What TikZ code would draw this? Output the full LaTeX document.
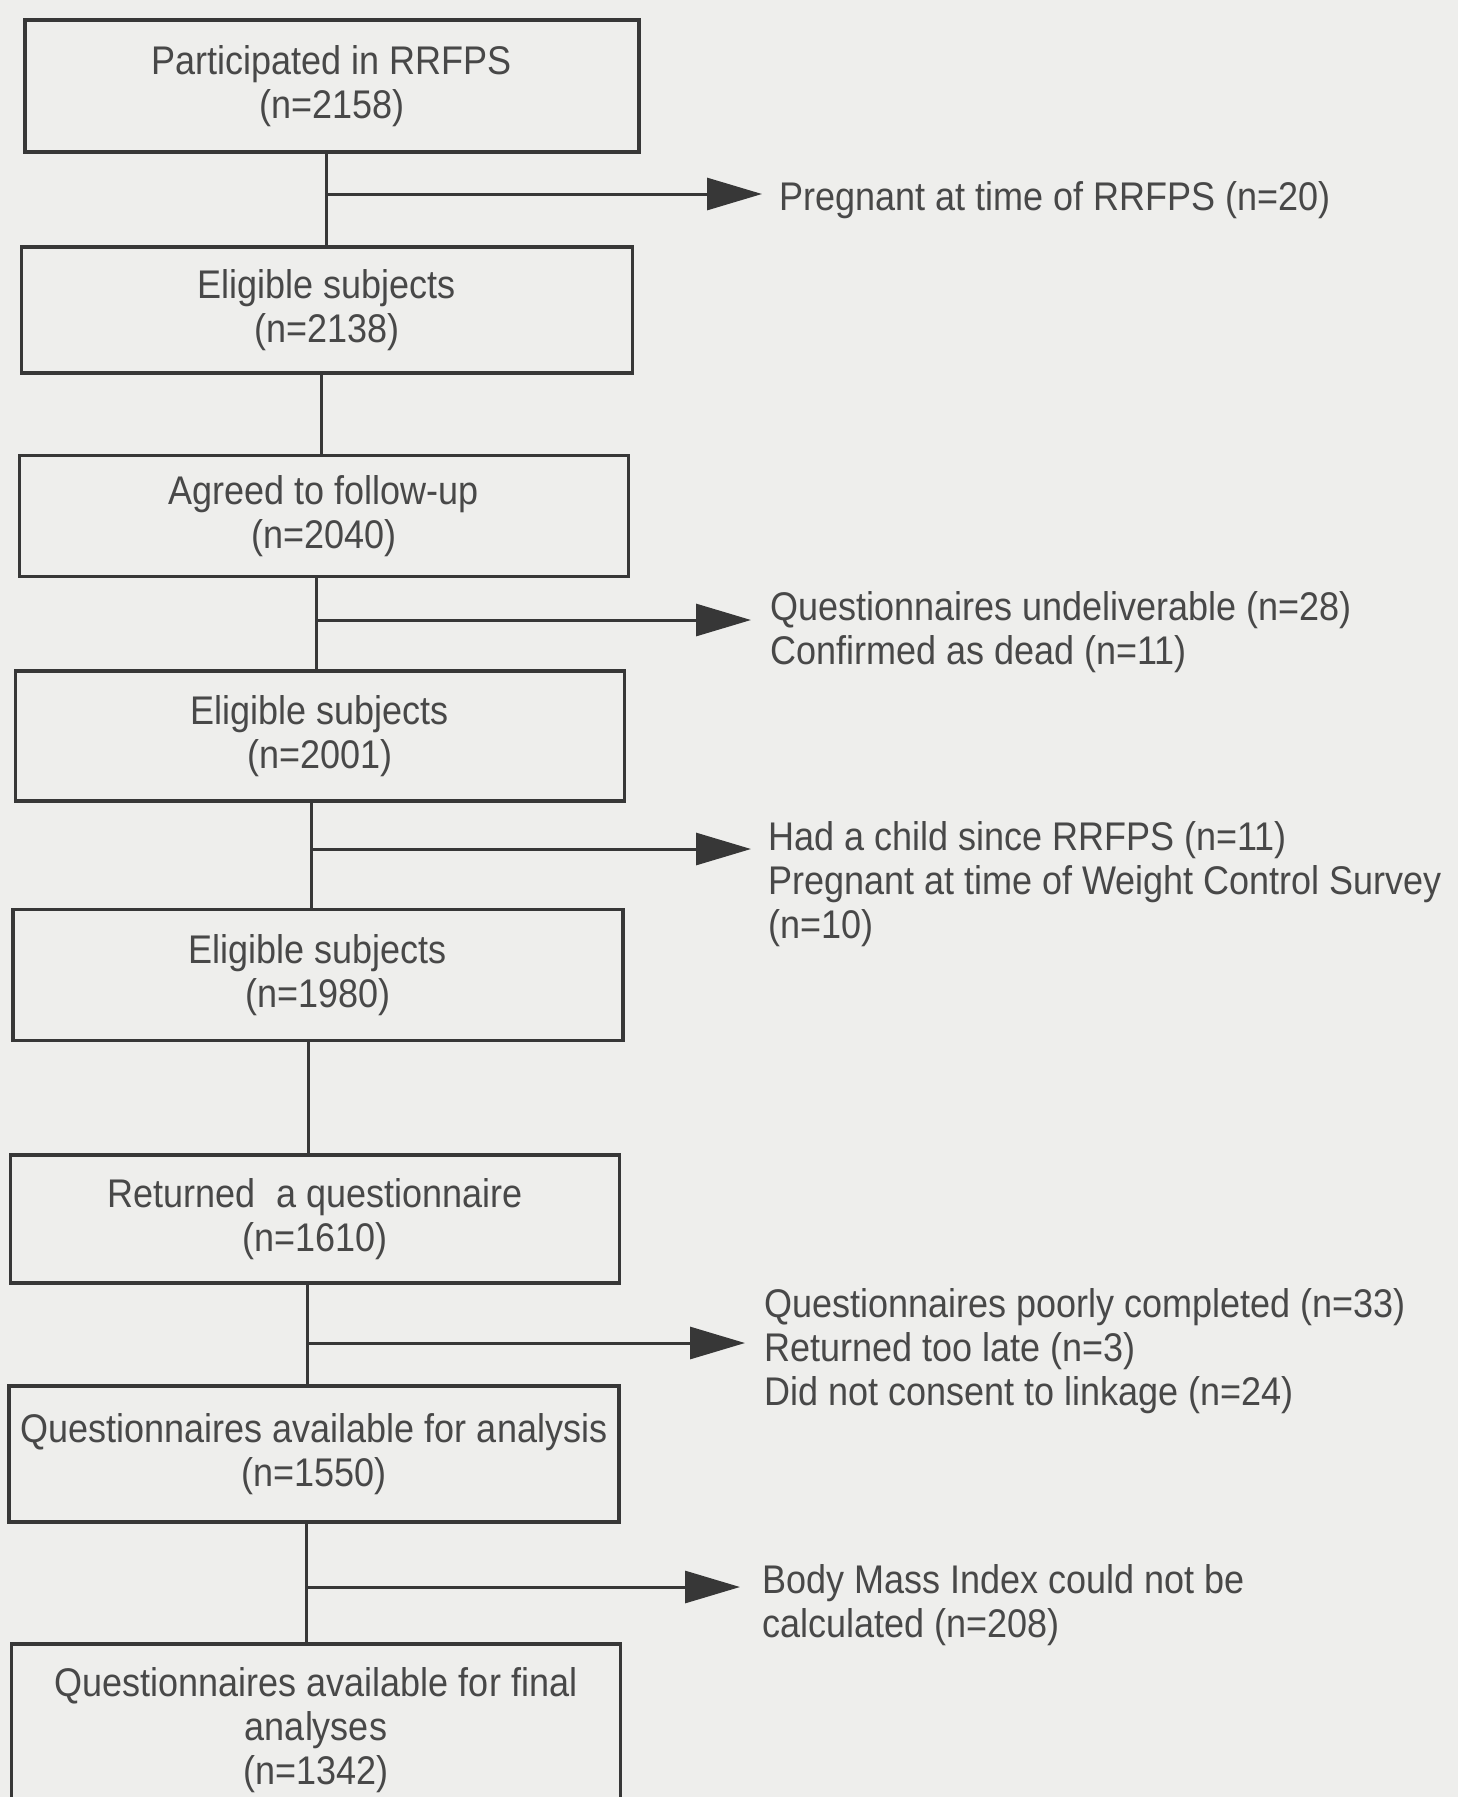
\documentclass[tikz,border=0pt]{standalone}
\usepackage{fontspec}
\setmainfont{Liberation Sans}[FakeStretch=0.9]
\usetikzlibrary{arrows.meta}
\definecolor{bgc}{RGB}{238,238,236}
\definecolor{linec}{RGB}{55,55,55}
\definecolor{textc}{RGB}{72,72,72}
\newcommand\flowfont{\fontsize{40}{44}\selectfont}
\begin{document}
\begin{tikzpicture}[x=1pt,y=-1pt,
  box/.style={draw=linec,line width=3.4pt,align=center,text=textc,font=\flowfont,inner sep=0pt},
  side/.style={anchor=west,align=left,text=textc,font=\flowfont,inner sep=0pt},
  conn/.style={draw=linec,line width=3pt},
  arr/.style={conn,-{Triangle[length=55pt,width=32pt]}}]
\fill[bgc] (0,0) rectangle (1458,1797);
\clip (0,0) rectangle (1458,1797);
\useasboundingbox (0,0) rectangle (1458,1797);
% boxes
\node[box,minimum width=614pt,minimum height=132pt] (b1) at (332,86) {Participated in RRFPS\\(n=2158)};
\node[box,minimum width=611pt,minimum height=126pt] (b2) at (327,310) {Eligible subjects\\(n=2138)};
\node[box,minimum width=609pt,minimum height=121pt] (b3) at (324,516) {Agreed to follow-up\\(n=2040)};
\node[box,minimum width=609pt,minimum height=130pt] (b4) at (320,736) {Eligible subjects\\(n=2001)};
\node[box,minimum width=610pt,minimum height=131pt] (b5) at (318,975) {Eligible subjects\\(n=1980)};
\node[box,minimum width=609pt,minimum height=128pt] (b6) at (315,1219) {Returned\hspace{0.28em} a questionnaire\\(n=1610)};
\node[box,minimum width=610pt,minimum height=136pt] (b7) at (314,1454) {Questionnaires available for analysis\\(n=1550)};
\node[box,minimum width=609pt,minimum height=172pt] (b8) at (316,1730) {Questionnaires available for final\\analyses\\(n=1342)};
% side texts
\node[side] (s1) at (779,200) {Pregnant at time of RRFPS (n=20)};
\node[side] (s2) at (770,632) {Questionnaires undeliverable (n=28)\\Confirmed as dead (n=11)};
\node[side] (s3) at (768,884) {Had a child since RRFPS (n=11)\\Pregnant at time of Weight Control Survey\\(n=10)};
\node[side] (s4) at (764,1351) {Questionnaires poorly completed (n=33)\\Returned too late (n=3)\\Did not consent to linkage (n=24)};
\node[side] (s5) at (762,1605) {Body Mass Index could not be\\calculated (n=208)};
% junctions
\coordinate (j1) at (326,194);
\coordinate (j2) at (321,420);
\coordinate (j3) at (316,620);
\coordinate (j4) at (311,849);
\coordinate (j5) at (308,1100);
\coordinate (j6) at (307,1343);
\coordinate (j7) at (306,1587);
% trunk
\draw[conn] (b1.south -| j1) -- (b2.north -| j1);
\draw[conn] (b2.south -| j2) -- (b3.north -| j2);
\draw[conn] (b3.south -| j3) -- (b4.north -| j3);
\draw[conn] (b4.south -| j4) -- (b5.north -| j4);
\draw[conn] (b5.south -| j5) -- (b6.north -| j5);
\draw[conn] (b6.south -| j6) -- (b7.north -| j6);
\draw[conn] (b7.south -| j7) -- (b8.north -| j7);
% branches
\draw[arr,shorten >=17pt] (j1) -- (j1 -| s1.west);
\draw[arr,shorten >=19pt] (j3) -- (j3 -| s2.west);
\draw[arr,shorten >=17pt] (j4) -- (j4 -| s3.west);
\draw[arr,shorten >=19pt] (j6) -- (j6 -| s4.west);
\draw[arr,shorten >=22pt] (j7) -- (j7 -| s5.west);
\end{tikzpicture}
\end{document}
